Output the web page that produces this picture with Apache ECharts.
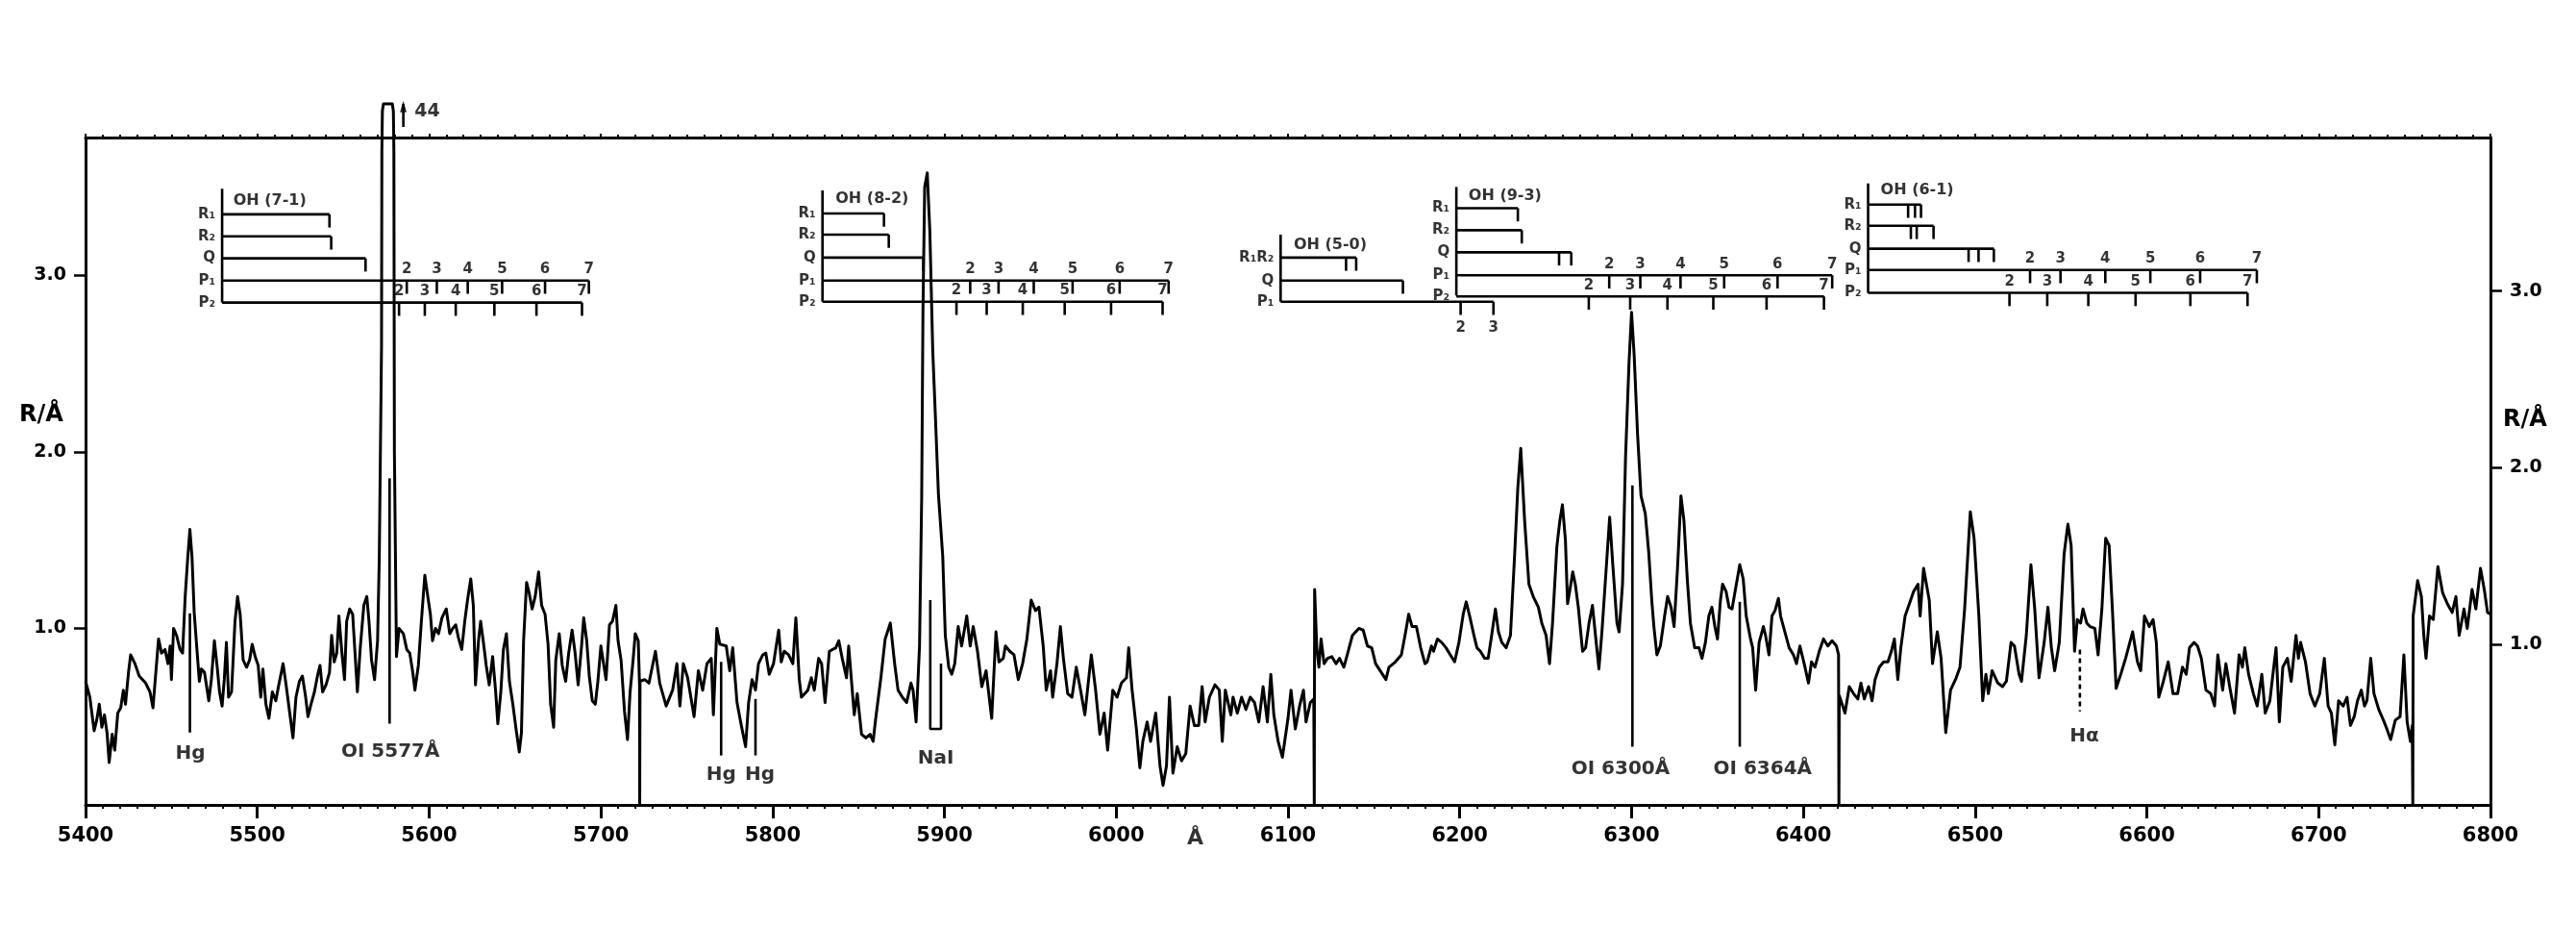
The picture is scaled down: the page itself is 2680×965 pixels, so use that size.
<!DOCTYPE html>
<html><head><meta charset="utf-8">
<script src="https://cdn.jsdelivr.net/npm/echarts@6/dist/echarts.min.js"></script>
<style>html,body{margin:0;padding:0;background:#fff}#c{width:2680px;height:965px}</style>
</head><body><div id="c"></div>
<script>
// ---------------- spectrum (wavelength in Å, intensity R/Å) ----------------
const spectrumX = [
5400,5402.5,5405,5406.5,5408,5409.5,5411,5412.5,5413.75,5415.5,5417,5418.75,5420.5,5422,5423.25,5425,5426.25,5428.75,5431.25,5435,5437.5,5439.25,5440.5,5442.5,5444.25,5446.25,5448,5449.25,5450,5451.25,5453,5455,5456.5,5458,5459.5,5460.75,5462,5463.25,5465,5466.25,5467.5,5469.25,5471.75,5473.25,5475,5476.75,5478,5479.5,5480.75,5482,5483.25,5485,5487,5488.5,5490,5491.75,5493.75,5495.5,5497,5498.75,
5500.5,5502,5503.25,5505,5506.75,5508.75,5510.75,5512.5,5515,5516.75,5518.75,5520.75,5522.5,5524.5,5526.25,5528,5529.5,5531.25,5533.25,5535,5536.5,5538,5540,5542,5543.25,5544.75,5546.25,5547.5,5549.25,5550.75,5552,5553.75,5555.5,5557,5558.25,5560,5562,5563.75,5565,5566.5,5568.25,5570,
5571,5572.3,5572.5,5572.8,5573.4,5578.6,5579.2,5579.5,5579.8,5581,
5582.5,5585,5587,5588.75,5590.5,5591.75,5593.75,5595.5,5597.5,5599.25,5600.75,5602,5603.75,5605.5,5607.5,5610,5612,5613.75,5615.5,5617,5619,5620.75,5622.5,5624.25,5625.75,5627,5628.75,5630,5631.75,5633.25,5635,5637,5638.75,5640,5641.75,5643.25,5645,5646.75,5648.75,5650.75,5652.5,5653.75,5655,5656.75,5658.25,5660,5661.75,5663.75,5665.5,5667.5,5669.25,5670.75,5672.5,5673.75,5675.75,5677.5,5679.5,5681.25,5683.25,5685,5686.75,5688.75,5690,5691.75,5693.25,5695,5696.75,5698.25,
5700,5701.25,5703,5705,5706.75,5708.75,5710,5711.75,5713.75,5715.5,5717,5718.75,5720,5721.75,5722.5,5722.6,5722.8,
5725.5,5728,5731.75,5734.25,5738,5741.75,5744.25,5746,5748,5750.5,5754.25,5756.75,5759.25,5761.75,5764.25,5765.5,5767.5,5769.25,5773,5775,5776.75,5779.25,5781.75,5784.25,5786,5788,5790,5791.75,5794.25,5796,5798,
5800.5,5803.5,5805,5806.75,5809.25,5811.75,5813.5,5815.5,5816.75,5820.5,5822.5,5824.25,5826.75,5828.5,5830.5,5833,5836.75,5838.5,5840.5,5843,5844.25,5846,5847.5,5849.25,5851.75,5854.25,5856.75,5858.5,5860,5863,5865.5,5868.5,5871,5873,5875.5,5878,5880.5,5881.75,5883.5,5885.5,5886.75,5887.5,5888.5,5890,5891.5,5893.2,5894.7,5896.5,5899,
5900.5,5902.5,5904.25,5906,5908,5910,5913,5915,5916.75,5919.25,5921.75,5924.25,5927.5,5930,5931.75,5934.25,5935.5,5938,5940.5,5943,5945.5,5948,5950.5,5953,5955,5957.5,5959.25,5961.75,5963,5965.5,5967.5,5969.25,5971.75,5974.25,5976.75,5979.25,5981.75,5984.25,5985.5,5988,5990.5,5993,5995,5998,
6000.5,6003,6006,6007.25,6009.25,6011.75,6013.75,6015.5,6018,6020,6023,6025.5,6027.25,6029.25,6031,6033,6035.5,6038,6040.5,6043,6045.5,6048,6050,6051.75,6054.25,6057.5,6060,6061.75,6063.5,6066.75,6068,6070.5,6073,6075.5,6078,6080.5,6083,6085.5,6088,6090,6091.75,6094.25,6096.75,
6100,6101.75,6104.25,6106.75,6109,6110.5,6113,6115,6115.3,6115.5,
6116.75,6118,6119.25,6121,6123,6125.5,6128,6130,6132.5,6134.5,6137.5,6141.25,6143.75,6146.25,6148.75,6151,6155,6157,6158.75,6162.5,6166,6168.5,6170.25,6172.25,6174.75,6177.25,6179.75,6181,6183.5,6184.75,6187,6189.5,6192,6194.5,6197,6199.5,
6202,6203.75,6205.75,6208.25,6210,6212,6214.5,6216.5,6218.25,6220.75,6222.5,6224.5,6227,6229.5,6232,6233.75,6235.5,6237.75,6240.25,6242.75,6245.75,6247.75,6250.25,6252.25,6254,6256.5,6258.25,6259.75,6261.5,6262.75,6264,6265.75,6267.25,6269,6271.5,6273.25,6275.25,6277.25,6279,6281,6282.75,6285.25,6287.25,6289,6291.5,6292.75,6294.75,6296.5,6298.5,
6300,6301.5,6303.5,6305.5,6308,6310,6311.75,6313,6314.75,6316.75,6319.25,6321,6323,6324.75,6326.75,6328.75,6330.5,6332.5,6334.25,6336.75,6339.25,6341,6343,6345,6346.75,6348.5,6350,6351.75,6353,6355,6356.75,6358.5,6361,6363,6365,6366.75,6369.25,6370.5,6372.25,6374.25,6376.75,6378,6380,6381.75,6383.5,6385.5,6386.75,6389.25,6391.75,6394.25,6396,6398,
6400.5,6403,6404.75,6406.75,6409.25,6411.75,6414.25,6416.75,6419.25,6420.5,6420.7,6420.9,
6424.25,6426.75,6429.25,6431.75,6433.5,6435.5,6438,6440,6441.75,6444.25,6446.75,6449.25,6451.25,6453,6455,6456.75,6459.25,6461.75,6464.25,6466.75,6468,6470,6473.3,6475.2,6478,6480.2,6482.9,6485.7,6489,6491.2,6493.9,6497.2,6499.4,
6502.2,6504.4,6506.3,6507.7,6509.9,6513.2,6516,6518.2,6520.9,6522.9,6525.6,6527,6529.8,6532.5,6534.7,6537.2,6540.2,6542.4,6544.4,6546.3,6549,6551.8,6554,6555.9,6557.9,6559.5,6561.4,6562.8,6565,6566.9,6569.7,6571.6,6573.8,6576,6578,6579.9,6582.1,6584.8,6587.6,6591.7,6594.5,6596.4,6598.6,
6601.4,6603.6,6605.5,6606.9,6609.6,6612.4,6615.2,6617.9,6620.7,6622.9,6624.8,6627.5,6629.5,6631.7,6634.4,6637.2,6639.4,6641.3,6644.1,6646,6648.2,6651,6653.7,6655.6,6657,6659.2,6662,6664.2,6666.9,6668.9,6671.6,6673.6,6675.2,6677.1,6679.1,6681.8,6684,6686.8,6688.2,6689.5,6692.3,6695,6697.8,
6700.6,6703.3,6705.5,6707.4,6709.4,6711.6,6714.3,6716.5,6718.5,6720.7,6722.6,6724.8,6726.7,6728.1,6730.3,6732.2,6735,6737.7,6739.7,6741.9,6744.6,6747.4,6749.6,6751.5,6753.4,6754.5,6754.8,6755,
6757.6,6759.8,6761.2,6762.5,6764.5,6766.7,6769.4,6772.2,6774.9,6777.7,6779.9,6781.8,6784.6,6786.5,6789.3,6791.5,6794.2,6796.4,6798.3,6800
];
const spectrumY = [
0.70,0.61,0.42,0.48,0.57,0.44,0.51,0.41,0.24,0.40,0.31,0.52,0.55,0.65,0.57,0.75,0.85,0.80,0.73,0.69,0.64,0.55,0.70,0.94,0.86,0.88,0.80,0.90,0.71,1.00,0.96,0.88,0.86,1.18,1.40,1.56,1.40,1.09,0.86,0.70,0.77,0.75,0.59,0.71,0.93,0.77,0.64,0.56,0.71,0.92,0.61,0.64,1.04,1.18,1.08,0.82,0.78,0.82,0.91,0.84,
0.79,0.61,0.77,0.57,0.49,0.64,0.59,0.68,0.80,0.68,0.53,0.38,0.61,0.70,0.73,0.62,0.50,0.57,0.64,0.73,0.79,0.64,0.68,0.75,0.96,0.81,0.86,1.07,0.86,0.71,1.04,1.11,1.08,0.84,0.64,0.90,1.13,1.18,1.04,0.82,0.71,0.93,
1.40,2.6,3.7,3.93,3.97,3.97,3.93,3.7,2.0,0.84,
1.00,0.97,0.88,0.86,0.75,0.65,0.79,1.04,1.30,1.18,1.08,0.93,1.00,0.97,1.06,1.11,0.97,1.00,1.02,0.95,0.88,1.04,1.17,1.28,1.13,0.68,0.93,1.04,0.91,0.79,0.68,0.84,0.64,0.46,0.64,0.88,0.97,0.70,0.57,0.42,0.30,0.41,0.93,1.26,1.20,1.11,1.18,1.32,1.13,1.08,0.91,0.57,0.44,0.82,0.97,0.79,0.70,0.86,0.99,0.86,0.68,0.90,1.06,0.93,0.73,0.59,0.57,0.70,
0.90,0.82,0.71,1.02,1.04,1.13,0.93,0.82,0.53,0.37,0.64,0.82,0.97,0.93,0.68,0,0.70,
0.71,0.69,0.87,0.69,0.56,0.65,0.80,0.56,0.80,0.72,0.50,0.76,0.65,0.80,0.83,0.51,1.00,0.91,0.90,0.76,0.89,0.58,0.45,0.33,0.58,0.71,0.65,0.80,0.85,0.86,0.74,
0.80,0.99,0.81,0.87,0.85,0.80,1.06,0.71,0.61,0.65,0.72,0.65,0.83,0.80,0.58,0.87,0.89,0.93,0.83,0.72,0.90,0.69,0.51,0.63,0.40,0.38,0.40,0.36,0.49,0.72,0.94,1.03,0.80,0.65,0.61,0.58,0.69,0.65,0.47,0.90,1.74,2.8,3.5,3.58,3.25,2.57,2.21,1.76,1.41,
0.96,0.78,0.74,0.80,1.01,0.90,1.07,0.90,1.01,0.87,0.67,0.76,0.49,0.98,0.81,0.83,0.90,0.87,0.85,0.71,0.80,0.94,1.16,1.10,1.12,0.90,0.65,0.76,0.61,0.80,1.01,0.83,0.63,0.61,0.78,0.65,0.51,0.74,0.85,0.65,0.40,0.52,0.31,0.65,
0.61,0.69,0.72,0.89,0.65,0.43,0.21,0.36,0.47,0.36,0.52,0.22,0.11,0.22,0.61,0.18,0.33,0.25,0.29,0.56,0.45,0.45,0.67,0.47,0.61,0.68,0.65,0.36,0.65,0.51,0.61,0.52,0.61,0.54,0.61,0.58,0.47,0.67,0.47,0.74,0.51,0.36,0.27,
0.49,0.65,0.43,0.56,0.65,0.47,0.58,0.60,0,1.22,
0.89,0.78,0.94,0.80,0.83,0.84,0.80,0.83,0.78,0.85,0.96,1.00,0.99,0.90,0.89,0.80,0.74,0.71,0.78,0.81,0.85,0.98,1.08,1.01,1.01,0.89,0.80,0.81,0.90,0.87,0.94,0.92,0.89,0.85,0.81,0.92,
1.08,1.15,1.07,0.96,0.89,0.87,0.83,0.83,0.94,1.11,0.98,0.92,0.89,0.96,1.43,1.79,2.02,1.61,1.25,1.18,1.12,1.03,0.96,0.80,1.03,1.46,1.61,1.70,1.50,1.14,1.21,1.32,1.25,1.12,0.87,0.89,1.03,1.13,0.96,0.77,0.98,1.34,1.63,1.37,1.03,0.98,1.25,1.97,2.5,
2.79,2.55,2.1,1.75,1.65,1.43,1.16,1.01,0.85,0.90,1.07,1.18,1.12,1.01,1.34,1.75,1.61,1.27,1.03,0.89,0.89,0.83,0.92,1.07,1.12,1.01,0.94,1.16,1.25,1.21,1.12,1.11,1.25,1.36,1.28,1.07,0.94,0.89,0.65,0.92,1.01,0.96,0.85,1.07,1.10,1.17,1.07,0.98,0.89,0.85,0.80,0.90,
0.80,0.69,0.81,0.78,0.87,0.94,0.90,0.93,0.90,0.85,0,0.62,
0.52,0.67,0.63,0.60,0.69,0.60,0.67,0.59,0.71,0.78,0.81,0.81,0.87,0.94,0.71,0.89,1.07,1.14,1.21,1.25,1.07,1.34,1.16,0.80,0.98,0.83,0.41,0.65,0.72,0.78,1.11,1.66,1.51,
1.07,0.59,0.74,0.63,0.76,0.69,0.67,0.70,0.92,0.90,0.74,0.70,0.96,1.36,1.11,0.72,0.92,1.12,0.89,0.76,0.92,1.42,1.59,1.47,0.87,1.05,1.03,1.11,1.03,1.01,1.00,0.85,1.11,1.51,1.47,1.11,0.66,0.74,0.83,0.98,0.81,0.76,1.07,
1.01,1.05,0.92,0.61,0.70,0.81,0.63,0.63,0.78,0.74,0.89,0.92,0.90,0.83,0.65,0.63,0.56,0.85,0.65,0.80,0.67,0.52,0.85,0.78,0.89,0.74,0.63,0.56,0.74,0.52,0.59,0.76,0.89,0.47,0.78,0.83,0.70,0.96,0.83,0.92,0.81,0.63,0.56,
0.63,0.83,0.56,0.52,0.34,0.59,0.56,0.61,0.45,0.50,0.59,0.65,0.56,0.59,0.83,0.63,0.54,0.48,0.43,0.37,0.48,0.50,0.85,0.47,0.36,0.45,0,1.07,
1.27,1.18,0.96,0.83,1.07,1.05,1.35,1.20,1.14,1.09,1.18,0.96,1.11,1.00,1.22,1.11,1.34,1.22,1.09,1.08
];

// ---------------- identified-line markers ----------------
const markerX      = [5460.75, 5577, 5770, 5790, 6300.5, 6363];
const markerTop    = [1.085, 1.85, 0.81, 0.60, 1.81, 1.15];
const markerBottom = [0.41, 0.46, 0.28, 0.28, 0.33, 0.33];
const naIMarkerX = [5891.75, 5891.75, 5898, 5898];
const naIMarkerY = [1.16, 0.43, 0.43, 0.80];
const hAlphaX = 6561, hAlphaRange = [0.88, 0.53];
const lineLabelText = ['Hg', 'OI 5577Å', 'Hg', 'Hg', 'NaI', 'OI 6300Å', 'OI 6364Å', 'Hα'];
const lineLabelX    = [5461, 5577.5, 5770, 5792.5, 5895, 6293.6, 6376.3, 6563.6];
const lineLabelY    = [0.29, 0.30, 0.17, 0.17, 0.26, 0.20, 0.20, 0.39];
// off-scale peak note
const offScaleX = 5585, offScaleY = [3.84, 3.97], offScaleText = '44';

// ---------------- OH band diagrams ----------------
// rows: [label, y, x end, tick positions, numbering ('above' | 'below' | null)]
const ohBand71 = { title: 'OH (7-1)', x0: 5479.5, top: 3.49, bottom: 2.845, titleAt: [5486, 3.42], rows: [
  ['R₁', 3.345, 5542, [5542]],
  ['R₂', 3.22, 5543, [5543]],
  ['Q', 3.096, 5563, [5563]],
  ['P₁', 2.97, 5693, [5587, 5604.5, 5622.5, 5642.5, 5667.5, 5693], 'above'],
  ['P₂', 2.845, 5689, [5582.5, 5597.5, 5615.5, 5638, 5662.5, 5689], 'above']]};
const ohBand82 = { title: 'OH (8-2)', x0: 5829, top: 3.48, bottom: 2.85, titleAt: [5836.6, 3.43], rows: [
  ['R₁', 3.35, 5864.8, [5864.8]],
  ['R₂', 3.23, 5867.6, [5867.6]],
  ['Q', 3.10, 5887.7, [5887.7]],
  ['P₁', 2.97, 6030.5, [5915, 5931.5, 5952, 5974.6, 6002, 6030.5], 'above'],
  ['P₂', 2.85, 6027, [5907, 5924.6, 5945.6, 5970, 5997, 6027], 'above']]};
const ohBand50 = { title: 'OH (5-0)', x0: 6095.7, top: 3.23, bottom: 2.85, titleAt: [6103.3, 3.17], rows: [
  ['R₁R₂', 3.10, 6139.7, [6133.8, 6139.7]],
  ['Q', 2.97, 6166.9, [6166.9]],
  ['P₁', 2.85, 6219.6, [6200.5, 6219.6], 'below']]};
const ohBand93 = { title: 'OH (9-3)', x0: 6198, top: 3.50, bottom: 2.885, titleAt: [6205.1, 3.45], rows: [
  ['R₁', 3.38, 6233.8, [6233.8]],
  ['R₂', 3.255, 6236.1, [6236.1]],
  ['Q', 3.13, 6264.9, [6257.8, 6264.9]],
  ['P₁', 3.00, 6416.8, [6287, 6305.1, 6328.5, 6353.9, 6385, 6416.8], 'above'],
  ['P₂', 2.88, 6412, [6275.1, 6299.2, 6320.9, 6347.6, 6378.6, 6412], 'above']]};
const ohBand61 = { title: 'OH (6-1)', x0: 6437.7, top: 3.52, bottom: 2.90, titleAt: [6445, 3.48], rows: [
  ['R₁', 3.40, 6468.5, [6461, 6465, 6468.5]],
  ['R₂', 3.28, 6475.8, [6462.6, 6466, 6475.8]],
  ['Q', 3.15, 6510.9, [6496.2, 6502, 6510.9]],
  ['P₁', 3.03, 6664, [6532, 6549.7, 6575.8, 6602, 6631, 6664], 'above'],
  ['P₂', 2.90, 6658.6, [6520, 6542, 6565.9, 6593.4, 6625.3, 6658.6], 'above']]};
const ohBands = [ohBand71, ohBand82, ohBand50, ohBand93, ohBand61];

// ---------------- build series data ----------------
const INK = '#000000';
const FONT = 'DejaVu Sans';
const spectrum = spectrumX.map((x, i) => [x, spectrumY[i]]);
const segments = [];   // [x1, y1, x2, y2]
const texts = [];
const TICK = 0.075;

markerX.forEach((x, i) => segments.push([x, markerTop[i], x, markerBottom[i]]));
segments.push([offScaleX, offScaleY[0], offScaleX, offScaleY[1]]);

lineLabelText.forEach((t, i) => texts.push({
  name: t, value: [lineLabelX[i], lineLabelY[i]],
  label: { fontSize: 20, fontWeight: 'bold', align: 'center' }
}));
texts.push({ name: offScaleText, value: [offScaleX + 6.5, 3.925], label: { fontSize: 19, fontWeight: 'bold', align: 'left' } });
texts.push({ name: 'Å', value: [6046, -0.19], label: { fontSize: 22, fontWeight: 'bold', align: 'center' } });

ohBands.forEach(b => {
  segments.push([b.x0, b.top, b.x0, b.bottom]);
  texts.push({ name: b.title, value: b.titleAt, label: { fontSize: 16, fontWeight: 'bold', align: 'left' } });
  b.rows.forEach(([name, y, xEnd, ticks, numbering]) => {
    segments.push([b.x0, y, xEnd, y]);
    ticks.forEach(t => segments.push([t, y, t, y - TICK]));
    texts.push({ name, value: [b.x0, y], label: { fontSize: 15, fontWeight: 'bold', align: 'right', offset: [-7, 0] } });
    if (numbering) {
      ticks.forEach((t, i) => texts.push({
        name: String(i + 2),
        value: [t, numbering === 'above' ? y + 0.062 : y - 0.15],
        label: { fontSize: 15, fontWeight: 'bold', align: 'center' }
      }));
    }
  });
});

const chart = echarts.init(document.getElementById('c'), null, { renderer: 'canvas' });
const yLabelFmt = v => (Math.abs(v - 1) < 1e-9 || Math.abs(v - 2) < 1e-9 || Math.abs(v - 3) < 1e-9) ? Math.round(v).toFixed(1) : '';
const yAxisCommon = {
  type: 'value',
  axisLine: { show: true, lineStyle: { color: INK, width: 3 } },
  axisTick: { show: true, length: 12, customValues: [1, 2, 3], lineStyle: { color: INK, width: 2.5 } },
  axisLabel: { show: true, customValues: [1, 2, 3], margin: 20, fontSize: 19, fontWeight: 'bold', color: INK, fontFamily: FONT, formatter: yLabelFmt },
  splitLine: { show: false }
};
const xAxisCommon = {
  type: 'value', min: 5400, max: 6800, interval: 100,
  axisLine: { show: true, onZero: false, lineStyle: { color: INK, width: 3 } },
  splitLine: { show: false }, minorSplitLine: { show: false }
};

chart.setOption({
  backgroundColor: '#ffffff',
  animation: false,
  textStyle: { fontFamily: FONT, color: INK },
  grid: { left: 89, right: 89, top: 143, bottom: 128, containLabel: false },
  xAxis: [
    Object.assign({}, xAxisCommon, {
      position: 'bottom',
      axisTick: { show: true, length: 14, lineStyle: { color: INK, width: 3 } },
      minorTick: { show: true, splitNumber: 10, length: 4, lineStyle: { color: INK, width: 2 } },
      axisLabel: { show: true, margin: 22, fontSize: 21, fontWeight: 'bold', color: INK, fontFamily: FONT, formatter: v => String(Math.round(v)) }
    }),
    Object.assign({}, xAxisCommon, {
      position: 'top',
      axisTick: { show: true, length: 4, lineStyle: { color: INK, width: 2 } },
      minorTick: { show: true, splitNumber: 10, length: 3, lineStyle: { color: INK, width: 2 } },
      axisLabel: { show: false }
    })
  ],
  yAxis: [
    Object.assign({}, yAxisCommon, { position: 'left', min: 0, max: 3.78, interval: 1 }),
    // the scanned original is slightly rotated: its right-hand scale sits a little lower
    Object.assign({}, yAxisCommon, { position: 'right', min: 0.09, max: 3.87 })
  ],
  graphic: [
    { type: 'text', left: 20, top: 420, style: { text: 'R/Å', font: 'bold 24px "DejaVu Sans"', fill: INK } },
    { type: 'text', left: 2604, top: 425, style: { text: 'R/Å', font: 'bold 24px "DejaVu Sans"', fill: INK } }
  ],
  series: [
    {
      name: 'spectrum', type: 'line', data: spectrum, showSymbol: false, clip: false, yAxisIndex: 0,
      lineStyle: { color: INK, width: 3, join: 'round' }, silent: true, z: 3
    },
    {
      name: 'annotations', type: 'custom', data: segments, clip: false, silent: true, z: 4, yAxisIndex: 0,
      encode: { x: [0, 2], y: [1, 3] },
      renderItem: (params, api) => {
        const p1 = api.coord([api.value(0), api.value(1)]);
        const p2 = api.coord([api.value(2), api.value(3)]);
        return { type: 'line', shape: { x1: p1[0], y1: p1[1], x2: p2[0], y2: p2[1] },
          style: { stroke: INK, lineWidth: 2.6, lineCap: 'butt' } };
      }
    },
    {
      name: 'NaI marker', type: 'line', data: naIMarkerX.map((x, i) => [x, naIMarkerY[i]]), yAxisIndex: 0,
      showSymbol: false, clip: false, silent: true, lineStyle: { color: INK, width: 2.6 }, z: 4
    },
    {
      name: 'Halpha marker', type: 'line', data: [[hAlphaX, hAlphaRange[0]], [hAlphaX, hAlphaRange[1]]], yAxisIndex: 0,
      showSymbol: false, clip: false, silent: true, lineStyle: { color: INK, width: 2.6, type: [5, 4] }, z: 4
    },
    {
      name: 'arrow head', type: 'scatter', data: [[offScaleX, offScaleY[1] - 0.015]], symbol: 'triangle', yAxisIndex: 0,
      symbolSize: [7, 12], itemStyle: { color: INK }, clip: false, silent: true, z: 5
    },
    {
      name: 'labels', type: 'scatter', data: texts, symbolSize: 1, clip: false, silent: true, z: 6, yAxisIndex: 0,
      itemStyle: { color: 'rgba(0,0,0,0)' },
      label: { show: true, position: 'inside', formatter: '{b}', color: INK, fontFamily: FONT, verticalAlign: 'middle' }
    }
  ]
});
</script></body></html>
